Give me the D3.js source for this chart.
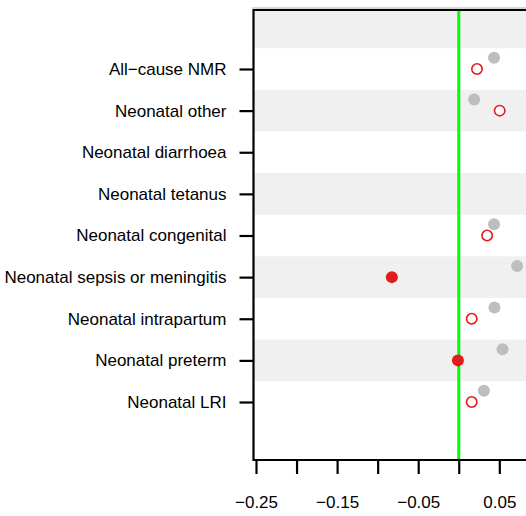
<!DOCTYPE html>
<html>
<head>
<meta charset="utf-8">
<script src="https://cdn.jsdelivr.net/npm/d3@7"></script>
<style>
  html, body { margin: 0; padding: 0; background: #fff; }
  svg { display: block; }
  text { font-family: "Liberation Sans", Arial, Helvetica, sans-serif; fill: #000; }
</style>
</head>
<body>
<svg id="chart" width="526" height="516"></svg>
<script>
// Categories, bottom to top (positions 1..9)
const categories = [
  "Neonatal LRI",
  "Neonatal preterm",
  "Neonatal intrapartum",
  "Neonatal sepsis or meningitis",
  "Neonatal congenital",
  "Neonatal tetanus",
  "Neonatal diarrhoea",
  "Neonatal other",
  "All\u2212cause NMR"
];
// Grey (reference) estimates
const greyValues = [0.031, 0.054, 0.044, 0.072, 0.0435, null, null, 0.019, 0.0435];
// Red estimates
const redValues = [0.016, -0.001, 0.016, -0.0825, 0.035, null, null, 0.0505, 0.0225];
// Red filled (significant) or open
const redFilled = [false, true, false, true, false, false, false, false, false];
// Stripe positions (grey background bands)
const stripePositions = [2, 4, 6, 8, 10];
// X tick values and labels
const xTicks = [-0.25, -0.20, -0.15, -0.10, -0.05, 0, 0.05];
const xTickLabels = ["\u22120.25", "", "\u22120.15", "", "\u22120.05", "", "0.05"];

const svg = d3.select("#chart");
const plot = { left: 253.5, top: 10, bottom: 460, right: 540 };

const x = d3.scaleLinear().domain([-0.25, 0.05]).range([256, 499.3]);
const y = d3.scaleLinear().domain([1, 9]).range([402, 69]);
const greyOffset = 0.27;

// clip
svg.append("clipPath").attr("id", "clip")
  .append("rect").attr("x", plot.left).attr("y", plot.top)
  .attr("width", plot.right - plot.left).attr("height", plot.bottom - plot.top);

const g = svg.append("g").attr("clip-path", "url(#clip)");

// stripes
g.selectAll("rect.stripe").data(stripePositions).enter().append("rect")
  .attr("class", "stripe")
  .attr("x", plot.left).attr("width", plot.right - plot.left)
  .attr("y", d => y(d + 0.5)).attr("height", d => y(d - 0.5) - y(d + 0.5))
  .attr("fill", "#f0f0f0");

// green zero line
g.append("line")
  .attr("x1", x(0)).attr("x2", x(0))
  .attr("y1", plot.top).attr("y2", plot.bottom)
  .attr("stroke", "#00ff00").attr("stroke-width", 3);

// grey points
const rows = categories.map((c, i) => ({ c, pos: i + 1, grey: greyValues[i], red: redValues[i], filled: redFilled[i] }));
g.selectAll("circle.grey").data(rows.filter(d => d.grey !== null)).enter().append("circle")
  .attr("cx", d => x(d.grey)).attr("cy", d => y(d.pos + greyOffset))
  .attr("r", 6).attr("fill", "#bebebe");

// red points
g.selectAll("circle.red").data(rows.filter(d => d.red !== null)).enter().append("circle")
  .attr("cx", d => x(d.red)).attr("cy", d => y(d.pos))
  .attr("r", d => d.filled ? 6 : 5.2)
  .attr("fill", d => d.filled ? "#e41a1c" : "#fff")
  .attr("stroke", "#e41a1c").attr("stroke-width", d => d.filled ? 0 : 1.6);

// top grey edge + box
svg.append("line").attr("x1", plot.left - 1).attr("x2", 526).attr("y1", 8).attr("y2", 8)
  .attr("stroke", "#b0b0b0").attr("stroke-width", 1);
svg.append("path")
  .attr("d", `M526,${plot.top} H${plot.left} V${plot.bottom} H526`)
  .attr("fill", "none").attr("stroke", "#000").attr("stroke-width", 2.2);

// y axis ticks and labels
const yAxis = d3.axisLeft(y)
  .tickValues(rows.map(d => d.pos))
  .tickFormat(d => categories[d - 1])
  .tickSize(14).tickPadding(13);
const ya = svg.append("g").attr("transform", `translate(${plot.left},0)`).call(yAxis);
ya.select(".domain").remove();
ya.selectAll(".tick line").attr("stroke", "#000").attr("stroke-width", 2.2);
ya.selectAll(".tick text").attr("font-size", 17).attr("font-family", "Liberation Sans, Arial, sans-serif");

// x axis
const xAxis = d3.axisBottom(x)
  .tickValues(xTicks)
  .tickFormat((d, i) => xTickLabels[i])
  .tickSize(14).tickPadding(22);
const xa = svg.append("g").attr("transform", `translate(0,${plot.bottom})`).call(xAxis);
xa.select(".domain").attr("d", `M${x(-0.25)},0H${x(0.05)}`).attr("stroke", "#000").attr("stroke-width", 2.2);
xa.selectAll(".tick line").attr("stroke", "#000").attr("stroke-width", 2.2);
xa.selectAll(".tick text").attr("font-size", 17).attr("font-family", "Liberation Sans, Arial, sans-serif");
</script>
</body>
</html>
